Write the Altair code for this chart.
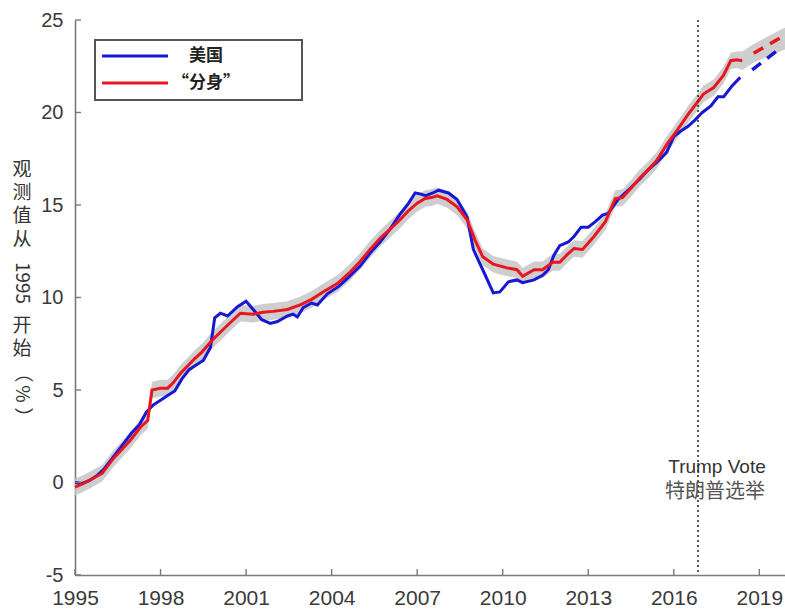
import altair as alt
import pandas as pd

# Cumulative change since 1995 (%), United States
us_points = [
    (1995.0, 0.0), (1995.25, -0.05), (1995.5, 0.1), (1995.75, 0.35),
    (1996.0, 0.7), (1996.25, 1.2), (1996.5, 1.7), (1996.75, 2.2),
    (1997.0, 2.7), (1997.25, 3.1), (1997.5, 3.8), (1997.75, 4.2),
    (1998.0, 4.45), (1998.25, 4.7), (1998.5, 4.95), (1998.75, 5.6),
    (1999.0, 6.1), (1999.25, 6.35), (1999.5, 6.6), (1999.75, 7.3),
    (1999.9, 8.9), (2000.1, 9.15), (2000.35, 9.0), (2000.7, 9.5),
    (2001.0, 9.8), (2001.25, 9.35), (2001.55, 8.8), (2001.85, 8.6),
    (2002.1, 8.7), (2002.45, 9.0), (2002.65, 9.1), (2002.8, 8.95),
    (2003.0, 9.45), (2003.3, 9.7), (2003.5, 9.6), (2003.85, 10.2),
    (2004.25, 10.6), (2004.6, 11.1), (2005.0, 11.7), (2005.35, 12.4),
    (2005.7, 13.0), (2006.05, 13.7), (2006.4, 14.5), (2006.7, 15.1),
    (2006.93, 15.65), (2007.1, 15.6), (2007.3, 15.5), (2007.55, 15.65),
    (2007.75, 15.8), (2008.1, 15.65), (2008.4, 15.3), (2008.75, 14.35),
    (2008.97, 12.6), (2009.3, 11.5), (2009.67, 10.25), (2009.9, 10.3),
    (2010.2, 10.85), (2010.5, 10.95), (2010.7, 10.8), (2011.1, 10.95),
    (2011.4, 11.2), (2011.6, 11.5), (2011.8, 12.3), (2012.0, 12.8),
    (2012.3, 13.0), (2012.5, 13.3), (2012.75, 13.8), (2013.0, 13.8),
    (2013.25, 14.1), (2013.5, 14.45), (2013.7, 14.55), (2014.05, 15.3),
    (2014.4, 15.8), (2014.8, 16.4), (2015.1, 16.9), (2015.4, 17.3),
    (2015.75, 17.85), (2016.0, 18.7), (2016.25, 19.0), (2016.5, 19.25),
    (2016.75, 19.6), (2017.0, 20.0), (2017.3, 20.35), (2017.55, 20.85),
    (2017.75, 20.85), (2018.05, 21.45), (2018.33, 21.9),
]

# Synthetic "doppelganger": (year, value, half-width of the uncertainty band)
twin_points = [
    (1995.0, -0.25, 0.45), (1995.3, -0.05, 0.45), (1995.6, 0.2, 0.45),
    (1995.95, 0.5, 0.45), (1996.35, 1.3, 0.45), (1996.65, 1.8, 0.45),
    (1996.95, 2.3, 0.45), (1997.3, 3.0, 0.45), (1997.55, 3.35, 0.45),
    (1997.7, 5.0, 0.45), (1998.0, 5.1, 0.45), (1998.25, 5.1, 0.45),
    (1998.45, 5.4, 0.45), (1998.7, 5.9, 0.45), (1998.95, 6.3, 0.45),
    (1999.2, 6.7, 0.45), (1999.45, 7.05, 0.45), (1999.85, 7.75, 0.45),
    (2000.15, 8.2, 0.45), (2000.45, 8.65, 0.45), (2000.8, 9.15, 0.45),
    (2001.25, 9.1, 0.45), (2001.6, 9.2, 0.45), (2001.95, 9.25, 0.45),
    (2002.45, 9.35, 0.45), (2002.9, 9.6, 0.45), (2003.3, 9.9, 0.45),
    (2003.7, 10.3, 0.45), (2004.2, 10.75, 0.45), (2004.6, 11.3, 0.45),
    (2005.0, 11.95, 0.45), (2005.35, 12.6, 0.45), (2005.7, 13.2, 0.45),
    (2006.05, 13.7, 0.45), (2006.4, 14.2, 0.45), (2006.7, 14.7, 0.45),
    (2007.0, 15.1, 0.45), (2007.28, 15.35, 0.45), (2007.5, 15.4, 0.45),
    (2007.7, 15.5, 0.45), (2008.05, 15.3, 0.45), (2008.4, 14.9, 0.45),
    (2008.75, 14.2, 0.45), (2009.03, 13.1, 0.45), (2009.3, 12.2, 0.45),
    (2009.67, 11.8, 0.45), (2010.15, 11.6, 0.45), (2010.5, 11.5, 0.45),
    (2010.7, 11.15, 0.45), (2011.1, 11.5, 0.45), (2011.4, 11.5, 0.45),
    (2011.75, 11.9, 0.45), (2012.0, 11.9, 0.45), (2012.25, 12.3, 0.45),
    (2012.5, 12.65, 0.45), (2012.8, 12.6, 0.45), (2013.2, 13.3, 0.45),
    (2013.6, 14.1, 0.45), (2013.95, 15.35, 0.45), (2014.2, 15.4, 0.45),
    (2014.5, 15.9, 0.45), (2014.8, 16.45, 0.45), (2015.1, 16.9, 0.45),
    (2015.4, 17.4, 0.45), (2015.77, 18.3, 0.45), (2016.1, 19.0, 0.45),
    (2016.5, 19.9, 0.45), (2016.8, 20.5, 0.45), (2017.04, 21.0, 0.45),
    (2017.4, 21.35, 0.45), (2017.74, 22.0, 0.45), (2018.0, 22.8, 0.45),
    (2018.2, 22.85, 0.45), (2018.4, 22.8, 0.5),
]

# Projections beyond the last observation
us_proj = [(2018.75, 22.3), (2019.75, 23.5)]
twin_proj = [(2018.8, 23.2), (2019.75, 24.05)]
proj_band = [(2018.4, 22.3, 23.3), (2018.8, 22.7, 23.7), (2019.9, 23.4, 24.6)]

vote_year = 2016.85
x_ticks = [1995, 1998, 2001, 2004, 2007, 2010, 2013, 2016, 2019]
y_ticks = [-5, 0, 5, 10, 15, 20, 25]
series_names = ["美国", "“分身”"]
series_colors = ["#1717d4", "#e8161e"]

W, H = 710, 555
LABEL_FONT = "Liberation Sans, Arial, sans-serif"
CJK_FONT = "Noto Sans CJK SC, sans-serif"

us_df = pd.DataFrame(us_points, columns=["year", "value"])
twin_df = pd.DataFrame(twin_points, columns=["year", "value", "half"])
band_df = pd.concat([
    pd.DataFrame({"year": twin_df["year"],
                  "lo": twin_df["value"] - twin_df["half"],
                  "hi": twin_df["value"] + twin_df["half"]}),
    pd.DataFrame(proj_band, columns=["year", "lo", "hi"]),
], ignore_index=True)
us_proj_df = pd.DataFrame(us_proj, columns=["year", "value"])
twin_proj_df = pd.DataFrame(twin_proj, columns=["year", "value"])

xs = alt.Scale(domain=[1995, 2019.9], nice=False, zero=False)
ys = alt.Scale(domain=[-5, 25], nice=False, zero=False)
x_axis = alt.Axis(values=x_ticks, labelExpr="'' + datum.value", title=None, grid=False,
                  tickSize=0, labelFlush=False, labelOverlap=False, labelBound=False,
                  labelFontSize=21, labelFont=LABEL_FONT, labelColor="#3a3a3a",
                  labelPadding=12, domainColor="#7a7a7a", domainWidth=1.6)
y_axis = alt.Axis(values=y_ticks, labelExpr="'' + datum.value", title=None, grid=False,
                  tickSize=0, labelFlush=False, labelOverlap=False, labelBound=False,
                  labelFontSize=20, labelFont=LABEL_FONT, labelColor="#3a3a3a",
                  labelPadding=12, domainColor="#7a7a7a", domainWidth=1.6)
X = alt.X("year:Q", scale=xs, axis=x_axis)
Y = alt.Y("value:Q", scale=ys, axis=y_axis)

band = alt.Chart(band_df).mark_area(color="#c6c6c6", opacity=0.85).encode(
    x=X, y=alt.Y("lo:Q", scale=ys, axis=y_axis), y2="hi:Q")

us_line = alt.Chart(us_df).mark_line(color=series_colors[0], strokeWidth=3).encode(x=X, y=Y)
twin_line = alt.Chart(twin_df).mark_line(color=series_colors[1], strokeWidth=3).encode(x=X, y=Y)
us_dash = alt.Chart(us_proj_df).mark_line(
    color=series_colors[0], strokeWidth=3.5, strokeDash=[11, 8]).encode(x=X, y=Y)
twin_dash = alt.Chart(twin_proj_df).mark_line(
    color=series_colors[1], strokeWidth=3.5, strokeDash=[11, 8]).encode(x=X, y=Y)

# Inward-pointing tick marks on both axes
y_tick_marks = alt.Chart(pd.DataFrame({"value": y_ticks})).mark_rule(
    color="#7a7a7a", strokeWidth=1.4).encode(y=Y, x=alt.value(0), x2=alt.value(6))
x_tick_marks = alt.Chart(pd.DataFrame({"year": x_ticks})).mark_rule(
    color="#7a7a7a", strokeWidth=1.4).encode(x=X, y=alt.value(H), y2=alt.value(H - 6))

vote_rule = alt.Chart(pd.DataFrame({"year": [vote_year]})).mark_rule(
    color="#333333", strokeWidth=1.6, strokeDash=[2, 3]).encode(x=X)

vote_en = alt.Chart(pd.DataFrame({"t": ["Trump Vote"]})).mark_text(
    font=LABEL_FONT, fontSize=19, color="#333333", align="center", baseline="middle"
).encode(text="t:N", x=alt.value(642), y=alt.value(447))
vote_zh = alt.Chart(pd.DataFrame({"t": ["特朗普选举"]})).mark_text(
    font=CJK_FONT, fontSize=20, color="#555555", align="center", baseline="middle"
).encode(text="t:N", x=alt.value(640), y=alt.value(472))

# Legend box
legend_box = alt.Chart(pd.DataFrame({"k": [0]})).mark_rect(
    fill="white", stroke="#555555", strokeWidth=2).encode(
    x=alt.value(20), x2=alt.value(227), y=alt.value(20), y2=alt.value(80))
legend_layers = [legend_box]
for i, (name, col) in enumerate(zip(series_names, series_colors)):
    ly = 36 + 27 * i
    legend_layers.append(
        alt.Chart(pd.DataFrame({"k": [i]})).mark_rule(color=col, strokeWidth=3).encode(
            x=alt.value(27), x2=alt.value(93), y=alt.value(ly)))
    legend_layers.append(
        alt.Chart(pd.DataFrame({"t": [name]})).mark_text(
            font=CJK_FONT, fontSize=17, fontWeight="bold", color="#222222",
            align="center", baseline="middle").encode(
            text="t:N", x=alt.value(131), y=alt.value(ly)))

# Vertical y-axis title: CJK characters upright, digits and percent turned sideways
title_parts = [("观", 0), ("测", 0), ("值", 0), ("从", 0), ("1995", 90),
               ("开", 0), ("始", 0), ("（", 90), ("%", 90), ("）", 90)]
title_offsets = [150, 173, 196, 220, 263, 306, 329, 353, 374, 397]
title_layers = []
for (txt, ang), py in zip(title_parts, title_offsets):
    title_layers.append(
        alt.Chart(pd.DataFrame({"t": [txt]})).mark_text(
            font=CJK_FONT, fontSize=19, color="#333333", align="center",
            baseline="middle", angle=ang).encode(
            text="t:N", x=alt.value(-53), y=alt.value(py)))

chart = alt.layer(
    band, us_line, twin_line, us_dash, twin_dash,
    y_tick_marks, x_tick_marks, vote_rule, vote_en, vote_zh,
    *legend_layers, *title_layers,
).properties(
    width=W, height=H,
    padding={"left": 75, "top": 20, "right": 0, "bottom": 37},
    autosize=alt.AutoSizeParams(type="none"),
    background="white",
).configure_view(stroke=None)

chart.save("out.html", embed_options={"renderer": "svg", "actions": False})
